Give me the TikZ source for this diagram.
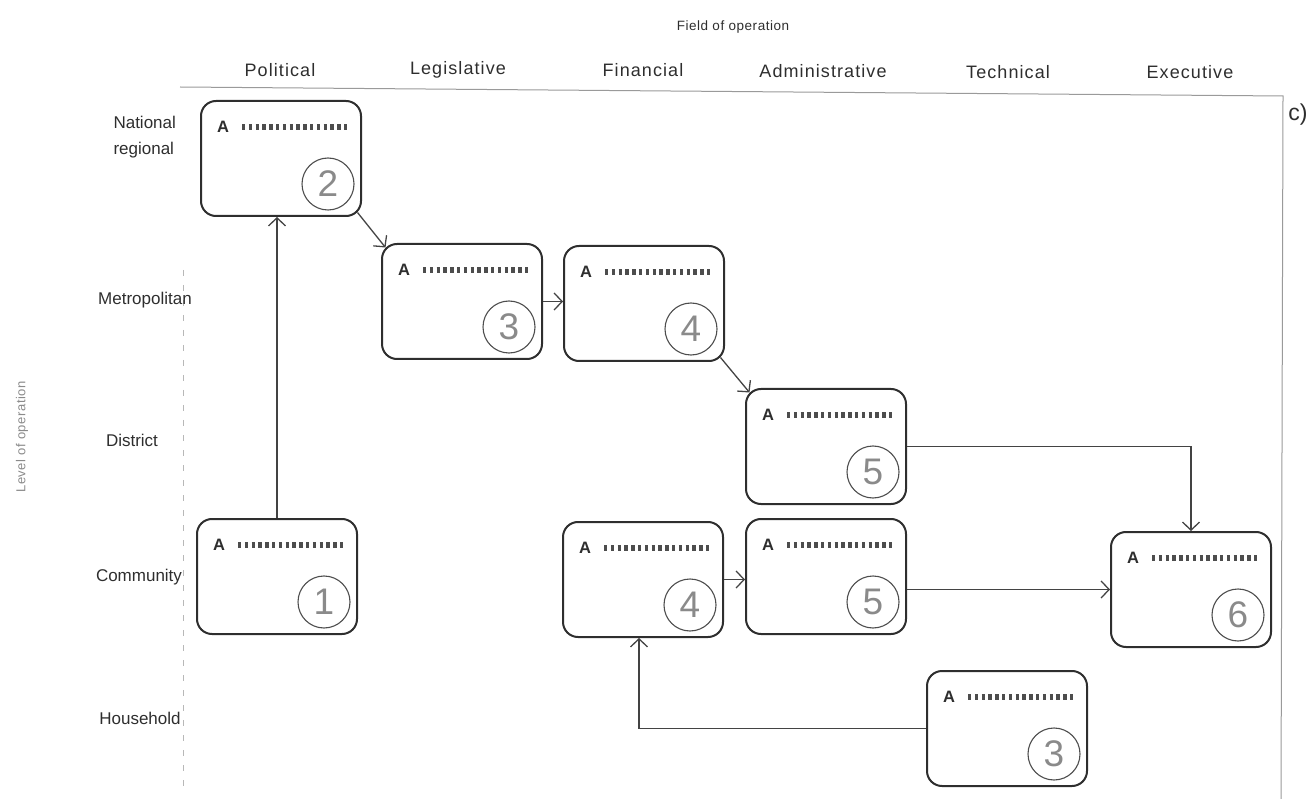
\documentclass[tikz,border=0pt]{standalone}
\usepackage{fontspec}
\setmainfont{Liberation Sans}
\usetikzlibrary{arrows.meta,calc}

\definecolor{ink}{HTML}{2E2E2E}
\definecolor{soft}{HTML}{8A8A8A}
\definecolor{frame}{HTML}{9A9A9A}

\tikzset{
  stage/.style={draw=ink, line width=2pt, rounded corners=15pt,
    minimum width=160pt, minimum height=115pt, inner sep=0pt, anchor=north west},
  numcirc/.style={circle, draw=ink!85, line width=1.1pt, minimum size=52pt,
    inner sep=0pt, text=soft, font=\fontsize{37}{37}\selectfont},
  mark A/.style={text=ink, font=\bfseries\fontsize{16.5}{16.5}\selectfont, inner sep=0pt},
  dotrow/.style={draw=ink!85, line width=6.5pt, dash pattern=on 3.4pt off 3.4pt},
  flow/.style={draw=ink!90, line width=1.3pt,
    -{Straight Barb[length=8pt,width=17pt,line width=1.3pt]}},
  collabel/.style={text=ink, font=\addfontfeatures{LetterSpace=6}\fontsize{18}{20}\selectfont},
  rowlabel/.style={text=ink, font=\fontsize{17}{19}\selectfont},
}

% one stage box: name, x, y (top-left), number
\newcommand{\stagebox}[4]{%
  \node[stage] (#1) at (#2,#3) {};
  \node[mark A] (#1a) at ($(#1.north west)+(23,27)$) {A};
  \draw[dotrow] ($(#1.north west)+(42,27)$) -- ($(#1.north west)+(149,27)$);
  \node[numcirc] (#1n) at ($(#1.south east)+(-34,-33)$) {#4};
}

\begin{document}
\begin{tikzpicture}[x=1pt,y=-1pt]
\useasboundingbox (0,0) rectangle (1312,799);

% outer frame
\draw[frame, line width=1pt] (180,87) -- (1283,96) -- (1281,799);
\draw[frame!70, line width=1pt, dash pattern=on 6pt off 9pt] (183,270) -- (183,792);

% headings
\node[text=ink, font=\addfontfeatures{LetterSpace=4}\fontsize{13.5}{15}\selectfont] (field) at (733,27) {Field of operation};
\node[collabel] (cpol) at (280,70) {Political};
\node[collabel] (cleg) at (458,70) {Legislative};
\node[collabel] (cfin) at (643,70) {Financial};
\node[collabel] (cadm) at (823,71) {Administrative};
\node[collabel] (ctec) at (1008,72) {Technical};
\node[collabel] (cexe) at (1190,72) {Executive};

\node[text=soft, rotate=90, font=\addfontfeatures{LetterSpace=4}\fontsize{13}{15}\selectfont] (level) at (22,437) {Level of operation};

\node[rowlabel, align=left, anchor=west, font=\fontsize{17}{26}\selectfont] (rnat) at (110,137) {National\\regional};
\node[rowlabel] (rmet) at (145,300) {Metropolitan};
\node[rowlabel] (rdis) at (132,440) {District};
\node[rowlabel] (rcom) at (139,577) {Community};
\node[rowlabel] (rhou) at (140,718) {Household};

\node[text=ink, font=\fontsize{23}{25}\selectfont] (tag) at (1298,115) {c)};

% stage boxes
\stagebox{b2}{200}{100}{2}
\stagebox{b3m}{381}{243}{3}
\stagebox{b4m}{563}{245}{4}
\stagebox{b5d}{745}{388}{5}
\stagebox{b1}{196}{518}{1}
\stagebox{b4c}{562}{521}{4}
\stagebox{b5c}{745}{518}{5}
\stagebox{b6}{1110}{531}{6}
\stagebox{b3h}{926}{670}{3}

% connectors
\draw[flow] (b1.north) -- (b1.north |- b2.south);
\draw[flow] ($(b2.south east)+(-4.5,-4.5)$) -- ($(b3m.north west)+(4.5,4.5)$);
\draw[flow] (b3m.east) -- (b3m.east -| b4m.west);
\draw[flow] ($(b4m.south east)+(-4.5,-4.5)$) -- ($(b5d.north west)+(4.5,4.5)$);
\draw[flow] (b5d.east) -| (b6.north);
\draw[flow] (b4c.east) -- (b4c.east -| b5c.west);
\draw[flow] (b5c.east |- b6.west) -- (b6.west);
\draw[flow] (b3h.west) -| ($(b4c.south)+(-4,0)$);
\end{tikzpicture}
\end{document}
